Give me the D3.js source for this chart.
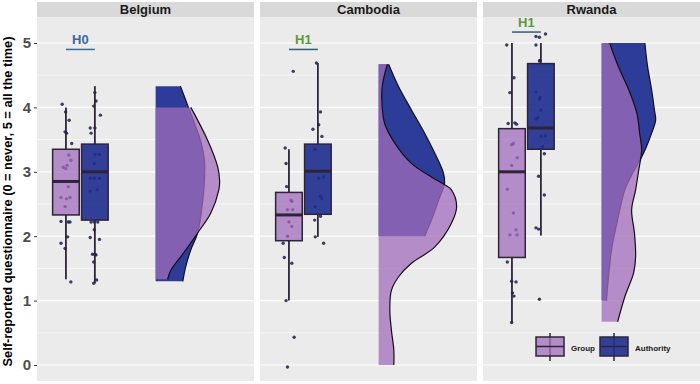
<!DOCTYPE html>
<html>
<head>
<meta charset="utf-8">
<script src="https://cdn.jsdelivr.net/npm/d3@7"></script>
<style>
  body { margin: 0; background: #fff; }
  svg { display: block; font-family: "Liberation Sans", Arial, sans-serif; }
</style>
</head>
<body>
<div id="chart"></div>
<script>
// facets and series
const countries = ["Belgium", "Cambodia", "Rwanda"];
const roles = ["Group", "Authority"];
const yTicks = [0, 1, 2, 3, 4, 5];
const yTitle = "Self-reported questionnaire (0 = never, 5 = all the time)";

// box stats per country: [lower whisker, q1, median, q3, upper whisker]
const groupBoxes = [
  [1.33, 2.33, 2.85, 3.35, 4.0],
  [1.0, 1.93, 2.33, 2.68, 3.35],
  [0.66, 1.67, 3.0, 3.67, 5.0]
];
const authorityBoxes = [
  [1.27, 2.25, 3.0, 3.43, 4.33],
  [1.99, 2.34, 3.01, 3.43, 4.69],
  [2.01, 3.35, 3.68, 4.68, 5.0]
];

// jittered answers: [value, horizontal jitter]
const groupPoints = [
  [[4.05,-0.13],[3.93,-0.01],[3.8,0.11],[3.62,-0.03],[3.6,0.02],[3.44,0.2],[3.26,0.1],[3.18,0.17],
   [3.1,0.04],[3.07,-0.09],[3.05,-0.01],[2.77,0.08],[2.6,-0.17],[2.58,0.02],[2.6,0.14],[2.46,-0.03],
   [2.23,-0.17],[2.22,0.08],[2.22,0.14],[1.99,0.06],[1.89,-0.17],[1.81,-0.03],[1.29,0.17]],
  [[4.56,0.15],[3.37,-0.13],[3.13,-0.1],[2.77,-0.08],[2.56,0.07],[2.54,0.1],[2.41,-0.05],[2.41,0.13],
   [2.22,0.0],[2.15,0.1],[2.0,-0.05],[1.89,-0.2],[1.67,-0.16],[1.58,0.1],[1.0,-0.1],[0.43,0.18],[-0.03,-0.05]],
  [[4.97,-0.18],[4.46,0.07],[4.23,-0.07],[3.75,-0.13],[3.76,0.1],[3.74,0.16],[3.44,0.05],[3.42,-0.01],
   [3.22,0.18],[3.1,-0.01],[2.73,-0.16],[2.36,0.05],[2.1,0.14],[2.02,-0.07],[2.02,0.18],[1.6,-0.16],
   [1.3,-0.01],[1.29,0.14],[1.12,0.02],[1.07,0.07],[0.66,-0.01]]
];
const authorityPoints = [
  [[4.23,0.0],[4.1,0.04],[4.02,-0.04],[3.88,0.19],[3.68,-0.16],[3.68,0.0],[3.6,-0.13],[3.27,0.0],
   [3.27,0.16],[3.13,-0.02],[2.9,-0.16],[2.9,-0.02],[2.9,0.16],[2.72,0.08],[2.7,-0.16],[2.22,-0.13],
   [2.22,-0.02],[2.22,0.1],[2.1,-0.02],[1.98,-0.16],[1.95,0.16],[1.72,-0.08],[1.72,0.0],[1.71,0.04],
   [1.6,-0.04],[1.32,0.06],[1.27,-0.04]],
  [[4.69,-0.05],[3.93,0.09],[3.73,0.03],[3.66,-0.17],[3.55,0.14],[3.35,-0.09],[2.9,0.03],[2.92,0.2],
   [2.62,0.09],[2.58,0.14],[2.46,-0.09],[2.31,0.09],[2.25,-0.11],[1.99,-0.09],[1.89,0.2]],
  [[5.1,-0.17],[5.09,-0.05],[5.14,0.16],[4.97,-0.17],[4.73,-0.03],[4.72,-0.05],[4.24,-0.17],[4.13,-0.05],
   [4.15,-0.03],[3.96,0.0],[3.82,-0.17],[3.84,-0.11],[3.55,0.0],[3.56,0.16],[3.39,0.06],[3.28,0.12],
   [2.93,-0.08],[2.64,0.12],[2.13,-0.17],[2.11,-0.08],[1.02,-0.05]]
];

// half-violin densities: [value, density]
const groupDensity = [
  [[1.33,0.15],[1.47,0.19],[1.74,0.35],[2.05,0.525],[2.36,0.69],[2.72,0.79],[2.87,0.8],[3.08,0.775],[3.49,0.65],[4.0,0.44]],
  [[0.0,0.19],[0.23,0.19],[0.54,0.16],[0.85,0.14],[1.16,0.16],[1.37,0.25],[1.58,0.41],[1.83,0.7],[2.2,0.91],
   [2.46,0.975],[2.72,0.91],[2.8,0.825],[2.92,0.66],[3.13,0.41],[3.45,0.2],[3.75,0.075],[4.11,0.04],[4.37,0.05],[4.67,0.11]],
  [[0.67,0.2],[1.06,0.29],[1.43,0.4],[1.68,0.425],[2.05,0.41],[2.41,0.375],[2.72,0.425],[3.0,0.46],[3.34,0.5],
   [3.6,0.475],[3.91,0.44],[4.27,0.34],[4.63,0.21],[5.0,0.1]]
];
const authorityDensity = [
  [[1.3,0.34],[1.52,0.375],[1.79,0.44],[2.05,0.525],[2.56,0.59],[2.87,0.61],[3.18,0.61],[3.49,0.56],[4.0,0.41],[4.33,0.31]],
  [[2.0,0.575],[2.25,0.66],[2.56,0.75],[2.83,0.825],[2.98,0.81],[3.23,0.725],[3.6,0.575],[3.96,0.41],[4.32,0.25],[4.67,0.125]],
  [[1.0,0.06],[1.43,0.09],[1.8,0.125],[2.2,0.19],[2.4,0.225],[2.72,0.29],[2.95,0.375],[3.23,0.5],[3.39,0.56],
   [3.6,0.625],[3.8,0.675],[3.96,0.66],[4.27,0.625],[4.63,0.575],[5.0,0.54]]
];

// hypothesis annotations
const hypLabels = ["H0", "H1", "H1"];
const hypLevels = [4.9, 4.9, 5.17];

const width = 700, height = 384;
const panelTop = 18, panelBottom = 381;

const colors = {
  Group: { fill: "#a26cbc", opacity: 0.75 },
  Authority: { fill: "#1e2c8e", opacity: 0.9 }
};
const violinBlue = "#2e3c99";
const ink = "#2d2438";

const svg = d3.select("#chart")
  .append("svg")
    .attr("width", width)
    .attr("height", height);

const facet = d3.scaleBand()
  .domain(countries)
  .range([37, 700])
  .paddingInner(0.027);

const y = d3.scaleLinear()
  .domain([0, 5])
  .range([365, 43]);

const x = d3.scaleLinear()
  .domain([0, 7.5])
  .range([0, facet.bandwidth()]);

const dens = d3.scaleLinear()
  .domain([0, 1])
  .range([0, 80]);

const pos = { Group: 1, Authority: 2, violin: 4.1 };
const boxW = x(0.92) - x(0);

// y axis
const yAxis = svg.append("g")
  .attr("transform", `translate(${facet(countries[0])},0)`)
  .call(d3.axisLeft(y).tickValues(yTicks).tickFormat(d3.format("d")).tickSize(3).tickPadding(3));
yAxis.select(".domain").remove();
yAxis.selectAll("line").attr("stroke", "#333");
yAxis.selectAll("text")
  .attr("fill", "#4d4d4d")
  .style("font-size", "15px")
  .style("font-weight", "bold")
  .style("font-family", "'Liberation Sans', Arial, sans-serif");

svg.append("text")
  .attr("transform", `translate(12,${(panelTop + panelBottom) / 2 + 2}) rotate(-90)`)
  .attr("text-anchor", "middle")
  .attr("font-weight", "bold")
  .attr("font-size", 12)
  .attr("textLength", 330)
  .attr("lengthAdjust", "spacingAndGlyphs")
  .attr("fill", "#000")
  .text(yTitle);

const minorTicks = d3.range(0.5, 5.5, 1);

countries.forEach((country, ci) => {
  const g = svg.append("g")
    .attr("transform", `translate(${facet(country)},0)`);
  const pw = facet.bandwidth();

  // strip
  g.append("rect")
    .attr("x", 0).attr("y", 2)
    .attr("width", pw).attr("height", panelTop - 2.5)
    .attr("fill", "#d9d9d9");
  g.append("text")
    .attr("x", pw / 2).attr("y", 14)
    .attr("text-anchor", "middle")
    .attr("font-weight", "bold")
    .attr("font-size", 13)
    .attr("fill", "#1a1a1a")
    .text(country);

  // panel
  g.append("rect")
    .attr("x", 0).attr("y", panelTop)
    .attr("width", pw).attr("height", panelBottom - panelTop)
    .attr("fill", "#ebebeb");

  g.selectAll(".minor")
    .data(minorTicks)
    .enter()
    .append("line")
      .attr("x1", 0).attr("x2", pw)
      .attr("y1", d => y(d)).attr("y2", d => y(d))
      .attr("stroke", "#fff")
      .attr("stroke-width", 0.6);
  g.selectAll(".major")
    .data(yTicks)
    .enter()
    .append("line")
      .attr("x1", 0).attr("x2", pw)
      .attr("y1", d => y(d)).attr("y2", d => y(d))
      .attr("stroke", "#fff")
      .attr("stroke-width", 1.2);

  const boxes = { Group: groupBoxes[ci], Authority: authorityBoxes[ci] };
  const points = { Group: groupPoints[ci], Authority: authorityPoints[ci] };

  roles.forEach(role => {
    const cx = x(pos[role]);
    const s = boxes[role];

    // jittered points
    g.selectAll(null)
      .data(points[role])
      .enter()
      .append("circle")
        .attr("cx", d => x(pos[role] + d[1]))
        .attr("cy", d => y(d[0]))
        .attr("r", 1.7)
        .attr("fill", "#1c1c50")
        .attr("opacity", 0.85);

    // whiskers
    g.append("line")
      .attr("x1", cx).attr("x2", cx)
      .attr("y1", y(s[0])).attr("y2", y(s[1]))
      .attr("stroke", ink).attr("stroke-width", 1.8);
    g.append("line")
      .attr("x1", cx).attr("x2", cx)
      .attr("y1", y(s[3])).attr("y2", y(s[4]))
      .attr("stroke", ink).attr("stroke-width", 1.8);

    // box
    g.append("rect")
      .attr("x", cx - boxW / 2)
      .attr("y", y(s[3]))
      .attr("width", boxW)
      .attr("height", y(s[1]) - y(s[3]))
      .attr("fill", colors[role].fill)
      .attr("fill-opacity", colors[role].opacity)
      .attr("stroke", ink)
      .attr("stroke-width", 1.5);
    g.append("line")
      .attr("x1", cx - boxW / 2).attr("x2", cx + boxW / 2)
      .attr("y1", y(s[2])).attr("y2", y(s[2]))
      .attr("stroke", ink).attr("stroke-width", 3);
  });

  // half violins: authority underneath, group on top with alpha
  const base = x(pos.violin);
  const area = d3.area()
    .curve(d3.curveCatmullRom)
    .y(d => y(d[0]))
    .x0(base)
    .x1(d => base + dens(d[1]));
  const edge = d3.line()
    .curve(d3.curveCatmullRom)
    .y(d => y(d[0]))
    .x(d => base + dens(d[1]));

  g.append("path")
    .attr("d", area(authorityDensity[ci]))
    .attr("fill", violinBlue);
  g.append("path")
    .attr("d", edge(authorityDensity[ci]))
    .attr("fill", "none")
    .attr("stroke", "#111")
    .attr("stroke-width", 1.2);
  g.append("path")
    .attr("d", area(groupDensity[ci]))
    .attr("fill", colors.Group.fill)
    .attr("fill-opacity", colors.Group.opacity);
  g.append("path")
    .attr("d", edge(groupDensity[ci]))
    .attr("fill", "none")
    .attr("stroke", "#111")
    .attr("stroke-width", 1.2);

  // hypothesis label
  const isH0 = hypLabels[ci] === "H0";
  g.append("line")
    .attr("x1", x(pos.Group)).attr("x2", x(pos.Authority))
    .attr("y1", y(hypLevels[ci])).attr("y2", y(hypLevels[ci]))
    .attr("stroke", isH0 ? "#3d6a99" : "#2f5e70")
    .attr("stroke-width", 1.5);
  g.append("text")
    .attr("x", (x(pos.Group) + x(pos.Authority)) / 2)
    .attr("y", y(hypLevels[ci]) - 5)
    .attr("text-anchor", "middle")
    .attr("font-weight", "bold")
    .attr("font-size", 13)
    .attr("fill", isH0 ? "#3d6a99" : "#5a9a3c")
    .text(hypLabels[ci]);
});

// legend inside the last panel
const legend = svg.append("g")
  .attr("transform", `translate(${facet(countries[2]) + 53},333)`);
const keyStep = 64;
roles.forEach((role, i) => {
  const k = legend.append("g").attr("transform", `translate(${i * keyStep},0)`);
  k.append("line")
    .attr("x1", 14).attr("x2", 14).attr("y1", 0).attr("y2", 28)
    .attr("stroke", ink).attr("stroke-width", 1.5);
  k.append("rect")
    .attr("x", 0).attr("y", 4).attr("width", 28).attr("height", 19)
    .attr("fill", colors[role].fill)
    .attr("fill-opacity", colors[role].opacity)
    .attr("stroke", ink).attr("stroke-width", 1.5);
  k.append("line")
    .attr("x1", 0).attr("x2", 28).attr("y1", 13.5).attr("y2", 13.5)
    .attr("stroke", ink).attr("stroke-width", 1.5);
  k.append("text")
    .attr("x", 35).attr("y", 18)
    .attr("font-weight", "bold")
    .attr("font-size", 8)
    .attr("fill", "#1a1a1a")
    .text(role);
});
</script>
</body>
</html>
